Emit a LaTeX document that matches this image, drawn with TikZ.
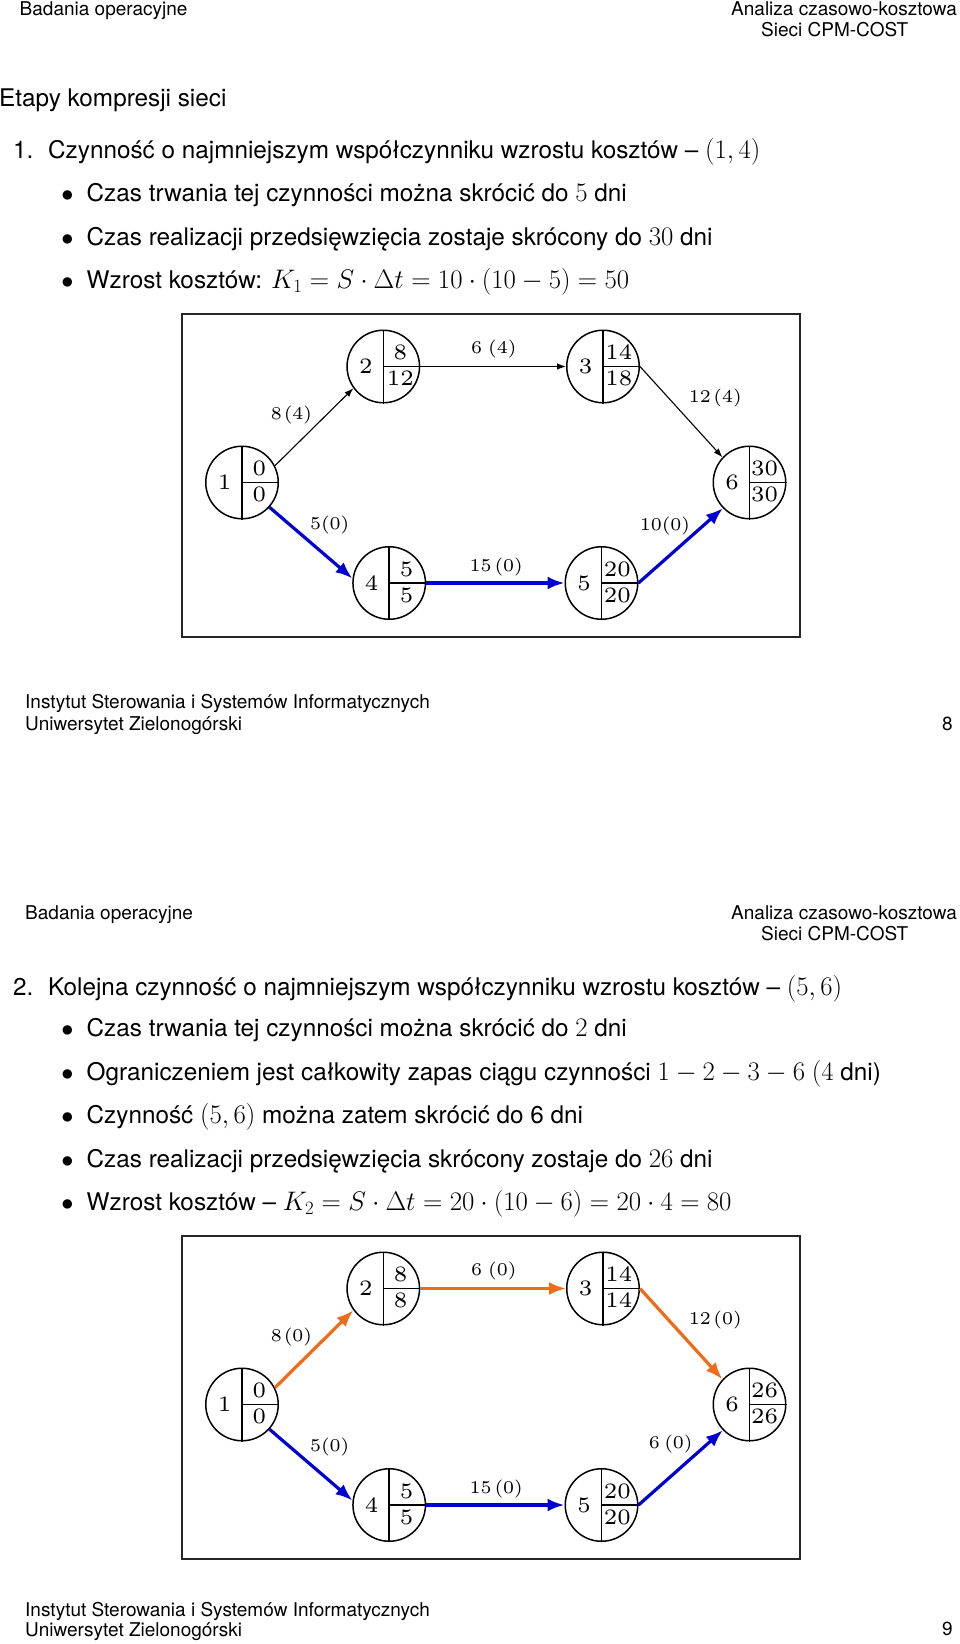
\RequirePackage{fix-cm}
\documentclass[tikz,border=0pt]{standalone}
\usepackage[no-math]{fontspec}
\setmainfont{TeX Gyre Heros}
\usetikzlibrary{arrows.meta}

\definecolor{cpmblue}{RGB}{0,0,210}
\definecolor{cpmorange}{RGB}{238,108,25}

\newcommand\hdrfont{\fontsize{19}{21}\selectfont}
\newcommand\txtfont{\fontsize{24.3}{29}\selectfont}

% wide small-design-size Computer Modern for the network numbers
\font\ndig=cmr6 at 22pt
\font\ldig=cmr6 at 18pt
% formulas in the running text
\newcommand\mth[1]{{\fontsize{26.8}{29}\selectfont$#1$}}

% name, x, y, number, top value, bottom value, x offset of the values
\newcommand\evnode[7]{%
  \node[ev] (#1) at (#2,#3) {};
  \draw[evline] (#1.north) -- (#1.south);
  \draw[evline] (#1.center) -- (#1.east);
  \node[evtxt] (#1n) at ([shift={(-17.5,7.4)}]#1.center) {#4};
  \node[evtxt] (#1t) at ([shift={(#7,-6.9)}]#1.center) {#5};
  \node[evtxt] (#1b) at ([shift={(#7,19)}]#1.center) {#6};
}

\begin{document}
\begin{tikzpicture}[x=1pt,y=-1pt,
  txt/.style={anchor=base west,inner sep=0,font=\txtfont},
  hdr/.style={anchor=base west,inner sep=0,font=\hdrfont},
  bul/.style={anchor=base,inner sep=0,font=\txtfont},
  ev/.style={circle,draw,line width=1.5pt,minimum size=72.5pt,inner sep=0},
  evline/.style={line width=1.5pt},
  evtxt/.style={anchor=base,inner sep=0,font=\ndig},
  lbl/.style={inner sep=0,font=\ldig},
  netframe/.style={draw=black!85,line width=1.8pt},
  actarrow/.style={line width=1.1pt,-{Latex[length=9pt,width=6.5pt]}},
  crit/.style={line width=3.2pt,-{Latex[length=17pt,width=13pt]}},
]
\useasboundingbox (0,0) rectangle (960,1644);

% ---------------- page 1 ----------------
\node[hdr] (h1l) at (19.5,15) {Badania operacyjne};
\node[hdr,anchor=base east] (h1r) at (957,15) {Analiza czasowo-kosztowa};
\node[hdr] (h1s) at (761,36) {Sieci CPM-COST};

\node[txt] (p1title) at (-1,106) {Etapy kompresji sieci};
\node[txt] (p1n) at (13,158) {1.};
\node[txt] (p1i) at (48,158) {Czynność o najmniejszym współczynniku wzrostu kosztów -- \mth{(1,4)}};
\node[bul] (p1b1) at (67.5,201.7) {$\bullet$};
\node[txt] (p1t1) at (86.5,201.7) {Czas trwania tej czynności można skrócić do \mth{5} dni};
\node[bul] (p1b2) at (67.5,245) {$\bullet$};
\node[txt] (p1t2) at (86.5,245) {Czas realizacji przedsięwzięcia zostaje skrócony do \mth{30} dni};
\node[bul] (p1b3) at (67.5,288.3) {$\bullet$};
\node[txt] (p1t3) at (86.5,288.3) {Wzrost kosztów: \mth{K_1 = S\cdot\Delta t = 10\cdot(10-5) = 50}};

\draw[netframe] (182,314) rectangle (800,637);
\evnode{a1}{242}{482.5}{1}{0}{0}{17.3}
\evnode{a2}{383.3}{366.5}{2}{8}{12}{17}
\evnode{a3}{603}{366.5}{3}{14}{18}{15.8}
\evnode{a4}{389.2}{583}{4}{5}{5}{17.3}
\evnode{a5}{601.5}{583}{5}{20}{20}{15.8}
\evnode{a6}{749.5}{482.5}{6}{30}{30}{15}

\draw[actarrow] (a1.27) -- (a2.216);
\draw[actarrow] (a2.east) -- (a3.west);
\draw[actarrow] (a3.east) -- (a6.137);
\draw[crit,cpmblue] (a1.-42) -- (a4.173);
\draw[crit,cpmblue] (a4.east) -- (a5.west);
\draw[crit,cpmblue] (a5.east) -- (a6.224);

\node[lbl] (la12) at (291.5,414.5) {8\kern2pt(4)};
\node[lbl] (la23) at (493.8,348.8) {6\kern6pt(4)};
\node[lbl] (la36) at (715.3,398.3) {12\kern2.5pt(4)};
\node[lbl] (la14) at (329.7,525) {5(0)};
\node[lbl] (la45) at (496.2,566.7) {15\kern3pt(0)};
\node[lbl] (la56) at (665,525.5) {10(0)};

\node[hdr] (f1a) at (25,708.3) {Instytut Sterowania i Systemów Informatycznych};
\node[hdr] (f1b) at (25,730) {Uniwersytet Zielonogórski};
\node[hdr,anchor=base east] (f1p) at (953,730) {8};

% ---------------- page 2 ----------------
\node[hdr] (h2l) at (25,919) {Badania operacyjne};
\node[hdr,anchor=base east] (h2r) at (957,919) {Analiza czasowo-kosztowa};
\node[hdr] (h2s) at (761,940) {Sieci CPM-COST};

\node[txt] (p2n) at (13,995) {2.};
\node[txt] (p2i) at (48,995) {Kolejna czynność o najmniejszym współczynniku wzrostu kosztów -- \mth{(5,6)}};
\node[bul] (p2b1) at (67.5,1036.7) {$\bullet$};
\node[txt] (p2t1) at (86.5,1036.7) {Czas trwania tej czynności można skrócić do \mth{2} dni};
\node[bul] (p2b2) at (67.5,1080) {$\bullet$};
\node[txt] (p2t2) at (86.5,1080) {Ograniczeniem jest całkowity zapas ciągu czynności \mth{1-2-3-6} \mth{(4} dni)};
\node[bul] (p2b3) at (67.5,1123.3) {$\bullet$};
\node[txt] (p2t3) at (86.5,1123.3) {Czynność \mth{(5,6)} można zatem skrócić do 6 dni};
\node[bul] (p2b4) at (67.5,1167.7) {$\bullet$};
\node[txt] (p2t4) at (86.5,1167.7) {Czas realizacji przedsięwzięcia skrócony zostaje do \mth{26} dni};
\node[bul] (p2b5) at (67.5,1210.7) {$\bullet$};
\node[txt] (p2t5) at (86.5,1210.7) {Wzrost kosztów -- \mth{K_2 = S\cdot\Delta t = 20\cdot(10-6) = 20\cdot 4 = 80}};

\draw[netframe] (182,1236) rectangle (800,1559);
\evnode{b1}{242}{1404.5}{1}{0}{0}{17.3}
\evnode{b2}{383.3}{1288.5}{2}{8}{8}{17.3}
\evnode{b3}{603}{1288.5}{3}{14}{14}{15.8}
\evnode{b4}{389.2}{1505}{4}{5}{5}{17.3}
\evnode{b5}{601.5}{1505}{5}{20}{20}{15.8}
\evnode{b6}{749.5}{1404.5}{6}{26}{26}{15}

\draw[crit,cpmorange] (b1.27) -- (b2.216);
\draw[crit,cpmorange] (b2.east) -- (b3.west);
\draw[crit,cpmorange] (b3.east) -- (b6.137);
\draw[crit,cpmblue] (b1.-42) -- (b4.173);
\draw[crit,cpmblue] (b4.east) -- (b5.west);
\draw[crit,cpmblue] (b5.east) -- (b6.224);

\node[lbl] (lb12) at (291.5,1336.5) {8\kern2pt(0)};
\node[lbl] (lb23) at (493.8,1270.8) {6\kern6pt(0)};
\node[lbl] (lb36) at (715.3,1320.3) {12\kern2.5pt(0)};
\node[lbl] (lb14) at (329.7,1447) {5(0)};
\node[lbl] (lb45) at (496.2,1488.7) {15\kern3pt(0)};
\node[lbl] (lb56) at (670.7,1444.2) {6\kern4.5pt(0)};

\node[hdr] (f2a) at (25,1616) {Instytut Sterowania i Systemów Informatycznych};
\node[hdr] (f2b) at (25,1636.7) {Uniwersytet Zielonogórski};
\node[hdr,anchor=base east] (f2p) at (953,1635) {9};
\end{tikzpicture}
\end{document}
